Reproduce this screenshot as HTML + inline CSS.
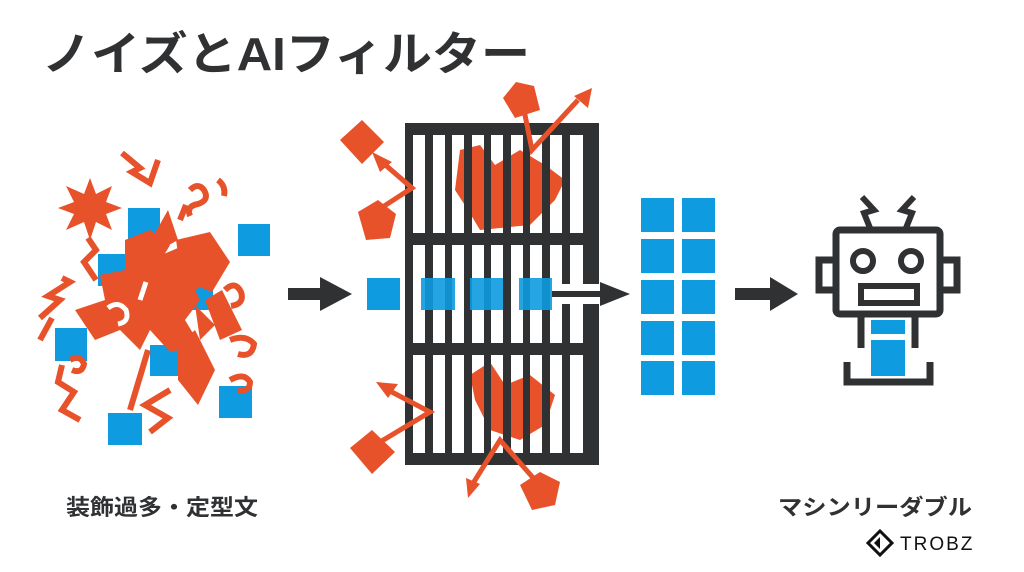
<!DOCTYPE html>
<html><head><meta charset="utf-8"><style>
html,body{margin:0;padding:0;background:#fff;}
svg{display:block;}
</style></head><body>
<svg width="1024" height="572" viewBox="0 0 1024 572" xmlns="http://www.w3.org/2000/svg">
<defs>
<clipPath id="slots">
<rect x="413" y="135" width="12" height="98"/><rect x="433" y="135" width="12" height="98"/><rect x="452" y="135" width="12" height="98"/><rect x="472" y="135" width="12" height="98"/><rect x="491" y="135" width="12" height="98"/><rect x="511" y="135" width="12" height="98"/><rect x="530" y="135" width="12" height="98"/><rect x="550" y="135" width="12" height="98"/><rect x="570" y="135" width="13" height="98"/>
<rect x="413" y="355" width="12" height="98"/><rect x="433" y="355" width="12" height="98"/><rect x="452" y="355" width="12" height="98"/><rect x="472" y="355" width="12" height="98"/><rect x="491" y="355" width="12" height="98"/><rect x="511" y="355" width="12" height="98"/><rect x="530" y="355" width="12" height="98"/><rect x="550" y="355" width="12" height="98"/><rect x="570" y="355" width="13" height="98"/>
</clipPath>
</defs>
<rect width="1024" height="572" fill="#fff"/>
<text x="42" y="70" font-family="'Liberation Sans','Noto Sans CJK JP',sans-serif" font-weight="bold" font-size="46" fill="#2f3133" textLength="488" lengthAdjust="spacingAndGlyphs">ノイズとAIフィルター</text>

<!-- noise cluster -->
<g fill="#0E9BE0">
<rect x="128" y="208" width="32" height="32"/>
<rect x="238" y="224" width="32" height="32"/>
<rect x="98" y="254" width="32" height="32"/>
<rect x="187" y="278" width="26" height="32"/>
<rect x="55" y="328" width="32" height="33"/>
<rect x="150" y="345" width="33" height="31"/>
<rect x="219" y="386" width="33" height="32"/>
<rect x="108" y="413" width="34" height="32"/>
</g>
<g fill="#E8522A">
<polygon points="90,178 96,194 112,186 106,202 122,208 106,214 112,230 96,222 90,240 84,222 66,230 74,214 58,208 74,202 66,186 84,194"/>
<polygon points="125,240 150,230 170,245 160,262 185,270 200,300 185,320 200,345 170,352 150,330 140,350 120,330 95,340 75,310 105,300 100,275 125,270"/>
<polygon points="145,262 185,245 205,285 175,300"/>
<polygon points="176,240 210,232 230,262 212,292 182,280"/>
<polygon points="155,233 168,210 178,240 160,250"/>
<polygon points="205,300 222,290 242,330 220,340"/>
<polygon points="178,345 195,330 215,370 198,405 178,380"/>
<polygon points="195,305 215,325 200,340"/>
</g>
<g fill="none" stroke="#E8522A" stroke-width="6" stroke-linejoin="miter">
<polyline points="122,153 140,168 132,172 150,183 158,160"/>
<polyline points="88,238 96,250 84,262 96,280"/>
<polyline points="40,318 60,300 48,296 70,282 62,278"/>
<polyline points="62,365 58,382 74,392 62,410 80,420"/>
<polyline points="170,390 145,405 168,418 150,432"/>
<polyline points="40,340 52,318"/>
<path d="M190,190 q8,-8 14,0 q6,10 -6,14 q-12,2 -8,12"/>
<path d="M218,180 q8,6 6,16"/>
<path d="M225,290 q10,-10 16,2 q4,12 -10,14"/>
<path d="M230,340 q16,-6 24,4 q-2,14 -16,10"/>
<path d="M70,360 q10,-6 14,4 q-2,10 -12,6"/>
<path d="M230,380 q14,-8 20,2 q0,10 -12,8"/>
<line x1="130" y1="410" x2="148" y2="350"/>
<line x1="180" y1="220" x2="186" y2="205"/>
</g>
<path d="M108,308 q10,-8 18,2 q4,12 -8,14 M140,300 l6,-18" fill="none" stroke="#fff" stroke-width="5"/>

<!-- arrow 1 -->
<rect x="288" y="288" width="34" height="12" fill="#2f3133"/>
<polygon points="320,277 352,294 320,311" fill="#2f3133"/>

<!-- filter -->
<rect x="405" y="123" width="194" height="342" fill="#2f3133"/>
<g fill="#fff">
<rect x="413" y="135" width="12" height="98"/><rect x="433" y="135" width="12" height="98"/><rect x="452" y="135" width="12" height="98"/><rect x="472" y="135" width="12" height="98"/><rect x="491" y="135" width="12" height="98"/><rect x="511" y="135" width="12" height="98"/><rect x="530" y="135" width="12" height="98"/><rect x="550" y="135" width="12" height="98"/><rect x="570" y="135" width="13" height="98"/>
<rect x="413" y="245" width="12" height="98"/><rect x="433" y="245" width="12" height="98"/><rect x="452" y="245" width="12" height="98"/><rect x="472" y="245" width="12" height="98"/><rect x="491" y="245" width="12" height="98"/><rect x="511" y="245" width="12" height="98"/><rect x="530" y="245" width="12" height="98"/><rect x="550" y="245" width="12" height="98"/><rect x="570" y="245" width="13" height="98"/>
<rect x="413" y="355" width="12" height="98"/><rect x="433" y="355" width="12" height="98"/><rect x="452" y="355" width="12" height="98"/><rect x="472" y="355" width="12" height="98"/><rect x="491" y="355" width="12" height="98"/><rect x="511" y="355" width="12" height="98"/><rect x="530" y="355" width="12" height="98"/><rect x="550" y="355" width="12" height="98"/><rect x="570" y="355" width="13" height="98"/>
<rect x="560" y="284" width="40" height="20"/>
</g>
<g fill="#E8522A" clip-path="url(#slots)">
<polygon points="460,150 480,145 495,165 520,150 545,165 565,180 555,200 530,225 480,230 468,210 455,190"/>
<polygon points="470,375 490,362 505,385 530,375 555,395 545,425 520,440 490,430 475,400"/>
</g>
<rect x="367" y="278" width="33" height="32" fill="#0E9BE0"/>
<g fill="#0E9BE0" opacity="0.9">
<rect x="421" y="278" width="34" height="32"/><rect x="470" y="278" width="33" height="32"/><rect x="519" y="278" width="33" height="32"/>
</g>
<rect x="552" y="291" width="50" height="6" fill="#2f3133"/>
<polygon points="600,282 630,294 600,306" fill="#2f3133"/>

<!-- filter orange -->
<g fill="#E8522A">
<polygon points="340,140 362,120 384,142 362,164"/>
<polygon points="358,212 378,200 396,214 390,238 366,240"/>
<polygon points="503,98 516,82 534,86 540,110 515,118"/>
<polygon points="350,448 372,430 395,452 372,474"/>
<polygon points="520,485 540,472 560,482 555,505 532,510"/>
</g>
<g stroke="#E8522A" stroke-width="5" fill="none">
<polyline points="378,210 412,188 382,162"/>
<polyline points="523,105 532,150 578,100"/>
<polyline points="370,448 430,412 388,390"/>
<polyline points="472,485 500,440 535,480"/>
</g>
<g fill="#E8522A">
<polygon points="372,152 392,162 380,172"/>
<polygon points="592,88 588,108 574,96"/>
<polygon points="376,382 398,384 388,398"/>
<polygon points="468,498 466,478 480,484"/>
</g>

<!-- blue column -->
<g fill="#0E9BE0">
<rect x="641" y="198" width="33" height="34"/><rect x="682" y="198" width="33" height="34"/>
<rect x="641" y="239" width="33" height="34"/><rect x="682" y="239" width="33" height="34"/>
<rect x="641" y="280" width="33" height="34"/><rect x="682" y="280" width="33" height="34"/>
<rect x="641" y="321" width="33" height="34"/><rect x="682" y="321" width="33" height="34"/>
<rect x="641" y="361" width="33" height="34"/><rect x="682" y="361" width="33" height="34"/>
</g>

<!-- arrow 2 -->
<rect x="735" y="288" width="36" height="12" fill="#2f3133"/>
<polygon points="770,277 798,294 770,311" fill="#2f3133"/>

<!-- robot -->
<g fill="none" stroke="#2f3133" stroke-width="7">
<rect x="836" y="230" width="104" height="84" rx="4"/>
<rect x="819" y="260" width="17" height="30"/>
<rect x="940" y="260" width="17" height="30"/>
<circle cx="863" cy="261" r="10" stroke-width="6"/>
<circle cx="911" cy="261" r="10" stroke-width="6"/>
<rect x="861" y="286" width="56" height="17" stroke-width="6"/>
<line x1="861" y1="317" x2="861" y2="348"/>
<line x1="915" y1="317" x2="915" y2="348"/>
<polyline points="847,362 847,382 930,382 930,362"/>
<polyline points="870,228 864,213 874,210 862,197" stroke-width="6"/>
<polyline points="906,228 912,213 902,210 914,197" stroke-width="6"/>
</g>
<rect x="871" y="320" width="34" height="14" fill="#0E9BE0"/>
<rect x="871" y="340" width="34" height="36" fill="#0E9BE0"/>

<!-- labels -->
<text x="66" y="515" font-family="'Liberation Sans','Noto Sans CJK JP',sans-serif" font-weight="bold" font-size="22" fill="#2f3133" textLength="192" lengthAdjust="spacingAndGlyphs">装飾過多・定型文</text>
<text x="778" y="515" font-family="'Liberation Sans','Noto Sans CJK JP',sans-serif" font-weight="bold" font-size="22" fill="#2f3133" textLength="194" lengthAdjust="spacingAndGlyphs">マシンリーダブル</text>

<!-- logo -->
<g transform="translate(880,543)">
<polygon points="0,-12 12,0 0,12 -12,0" fill="none" stroke="#111" stroke-width="3"/>
<polygon points="-6,0 0,-6 0,6" fill="#111"/>
</g>
<text x="900" y="550" font-family="'Liberation Sans',sans-serif" font-size="19" fill="#111" letter-spacing="2">TROBZ</text>
</svg>
</body></html>
